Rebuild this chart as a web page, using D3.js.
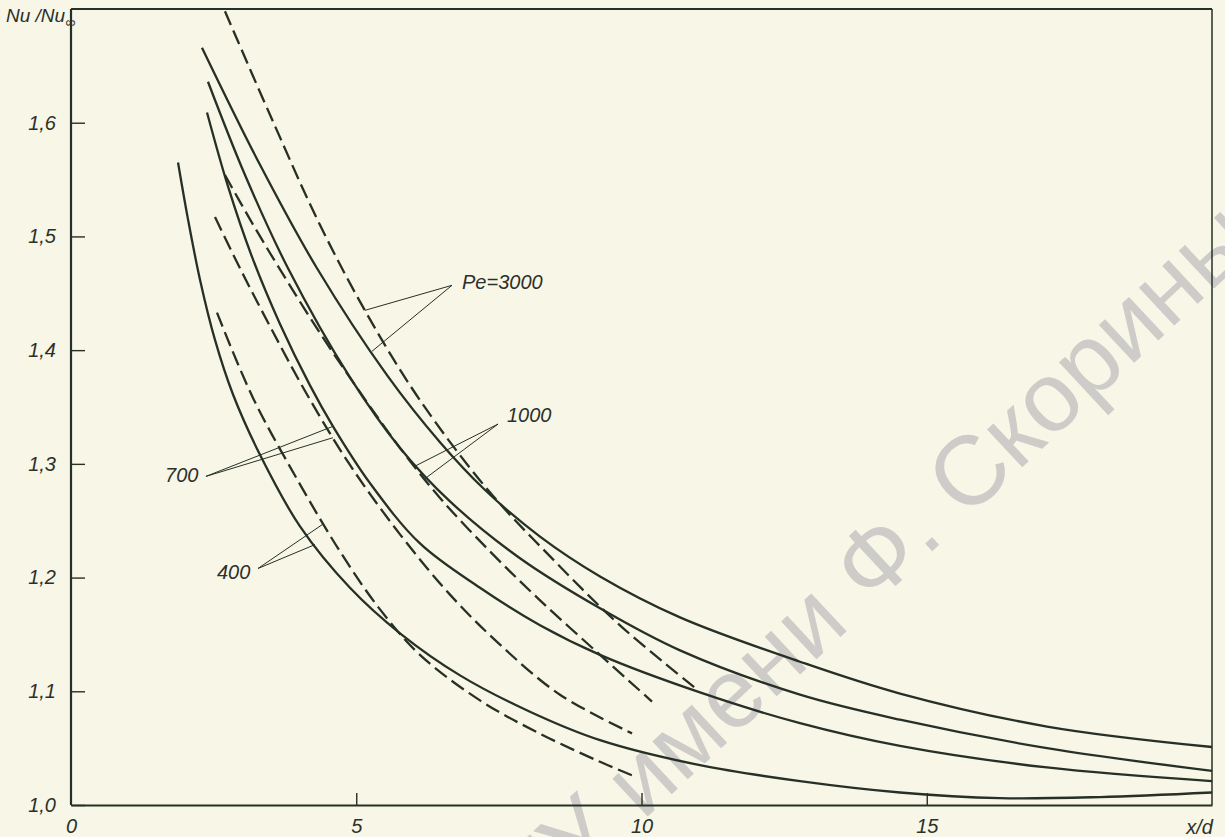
<!DOCTYPE html>
<html>
<head>
<meta charset="utf-8">
<script src="https://cdn.jsdelivr.net/npm/d3@7"></script>
<style>
  body { margin: 0; background: #f8f6e6; }
  svg { display: block; }
  .lbl { font-family: "Liberation Sans", Arial, sans-serif; font-style: italic; fill: #2b302b; }
</style>
</head>
<body>
<div id="vis"></div>
<script>
const FRAME_WIDTH = 1225;
const FRAME_HEIGHT = 837;

// axes
const xTicks = [0, 5, 10, 15];
const yTicks = [1.0, 1.1, 1.2, 1.3, 1.4, 1.5, 1.6];
const yTickLabels = ["1,0", "1,1", "1,2", "1,3", "1,4", "1,5", "1,6"];

// curves: [x/d, Nu/Nu_inf]
// solid lines
const solid3000 = [[2.296,1.666],[3.313,1.563],[4.312,1.472],[5.539,1.378],[6.468,1.319],[7.257,1.277],[8.221,1.236],[9.273,1.201],[10.675,1.165],[12.778,1.126],[14.531,1.098],[17.108,1.069],[20,1.051]];
const solid1000 = [[2.401,1.636],[3.050,1.554],[3.804,1.472],[4.890,1.376],[5.767,1.314],[6.643,1.267],[7.870,1.217],[9.273,1.173],[10.675,1.136],[12.778,1.097],[14.531,1.075],[17.108,1.050],[20,1.030]];
const solid700  = [[2.384,1.609],[2.752,1.544],[3.173,1.482],[3.663,1.423],[4.189,1.369],[4.592,1.333],[5.241,1.283],[6.117,1.230],[7.169,1.191],[8.221,1.158],[9.273,1.132],[11.025,1.099],[12.778,1.072],[14.531,1.052],[17.108,1.033],[20,1.021]];
const solid400  = [[1.876,1.565],[2.051,1.515],[2.261,1.462],[2.524,1.409],[2.840,1.361],[3.313,1.308],[4.014,1.245],[4.890,1.191],[5.767,1.151],[6.819,1.114],[8.045,1.082],[9.273,1.057],[11.025,1.035],[12.778,1.021],[14.531,1.011],[16.284,1.006],[18.037,1.007],[20,1.011]];
// dashed lines
const dashed3000 = [[2.699,1.698],[3.488,1.607],[4.365,1.510],[5.241,1.427],[6.117,1.356],[7.309,1.277],[8.449,1.216],[9.623,1.158],[10.938,1.103]];
const dashed1000 = [[2.699,1.554],[3.138,1.515],[3.663,1.471],[4.365,1.415],[5.066,1.363],[5.767,1.314],[6.468,1.270],[7.344,1.223],[8.221,1.180],[9.273,1.132],[10.184,1.091]];
const dashed700  = [[2.524,1.517],[2.962,1.472],[3.488,1.421],[4.137,1.361],[4.890,1.299],[5.767,1.238],[6.643,1.185],[7.520,1.141],[8.571,1.097],[9.834,1.063]];
const dashed400  = [[2.559,1.433],[3.190,1.358],[4.014,1.282],[4.715,1.223],[5.416,1.172],[6.117,1.132],[7.169,1.092],[8.168,1.064],[9.273,1.038],[9.886,1.025]];

// Pe labels: text, label anchor, leader start and end points (data units)
const peNames = ["Pe=3000", "1000", "700", "400"];
const peLabelPos = [[6.854,1.454],[7.642,1.337],[1.648,1.284],[2.559,1.199]];
const peLeaderStart = [[6.678,1.457],[7.485,1.335],[2.366,1.289],[3.278,1.208]];
const peLeaderEnds = [
  [[5.153,1.435],[5.276,1.399]],
  [[6.030,1.298],[6.205,1.287]],
  [[4.592,1.333],[4.592,1.323]],
  [[4.417,1.247],[4.277,1.229]]
];

const MARGINS = {left: 71, right: 13, top: 9, bottom: 32};

const FRAME = d3.select("#vis")
  .append("svg")
    .attr("width", FRAME_WIDTH)
    .attr("height", FRAME_HEIGHT);

FRAME.append("rect")
  .attr("width", FRAME_WIDTH).attr("height", FRAME_HEIGHT)
  .attr("fill", "#f8f6e6");

const X_SCALE = d3.scaleLinear()
  .domain([0, 20])
  .range([MARGINS.left, FRAME_WIDTH - MARGINS.right]);

const Y_SCALE = d3.scaleLinear()
  .domain([1.0, 1.7])
  .range([FRAME_HEIGHT - MARGINS.bottom, MARGINS.top]);

const INK = "#263026";

// watermark
FRAME.append("text")
  .attr("transform", "translate(880,600) rotate(-43)")
  .attr("text-anchor", "middle")
  .attr("font-family", "Liberation Sans, Arial, sans-serif")
  .attr("font-size", 98)
  .attr("fill", "#c2c2c2")
  .attr("fill-opacity", 0.8)
  .text("ГГУ имени Ф. Скорины");

// frame: top and right border
FRAME.append("line")
  .attr("x1", X_SCALE(0)).attr("x2", X_SCALE(20))
  .attr("y1", Y_SCALE(1.7)).attr("y2", Y_SCALE(1.7))
  .attr("stroke", INK).attr("stroke-width", 2);
FRAME.append("line")
  .attr("x1", X_SCALE(20)).attr("x2", X_SCALE(20))
  .attr("y1", Y_SCALE(1.7)).attr("y2", Y_SCALE(1.0))
  .attr("stroke", INK).attr("stroke-width", 1.5);

// y axis, ticks pointing inward
const yAxis = FRAME.append("g")
  .attr("transform", "translate(" + X_SCALE(0) + ",0)")
  .call(d3.axisLeft(Y_SCALE)
    .tickValues(yTicks)
    .tickFormat((d, i) => yTickLabels[i])
    .tickSizeInner(-14)
    .tickSizeOuter(0)
    .tickPadding(15));

// x axis, ticks pointing up
const xAxis = FRAME.append("g")
  .attr("transform", "translate(0," + Y_SCALE(1.0) + ")")
  .call(d3.axisBottom(X_SCALE)
    .tickValues(xTicks)
    .tickFormat(d3.format("d"))
    .tickSizeInner(-12)
    .tickSizeOuter(0)
    .tickPadding(14));

[yAxis, xAxis].forEach(ax => {
  ax.select(".domain").attr("stroke", INK).attr("stroke-width", 2.2);
  ax.selectAll(".tick line").attr("stroke", INK).attr("stroke-width", 1.4);
  ax.selectAll(".tick text")
    .attr("class", "lbl")
    .attr("font-size", 20)
    .attr("fill", INK);
});
yAxis.select(".domain").attr("d", "M0," + Y_SCALE(1.7) + "V" + Y_SCALE(1.0));
xAxis.selectAll(".tick").filter(d => d === 0).select("line").remove();

// axis titles
FRAME.append("text")
  .attr("class", "lbl")
  .attr("x", 6).attr("y", 22)
  .attr("font-size", 19)
  .text("Nu /Nu")
  .append("tspan")
    .attr("font-size", 14)
    .attr("dy", 5)
    .text("∞");

FRAME.append("text")
  .attr("class", "lbl")
  .attr("x", 1213).attr("y", 834)
  .attr("text-anchor", "end")
  .attr("font-size", 20)
  .text("x/d");

// curves
const line = d3.line()
  .x(d => X_SCALE(d[0]))
  .y(d => Y_SCALE(d[1]))
  .curve(d3.curveCatmullRom.alpha(0.5));

const solidSeries = [solid3000, solid1000, solid700, solid400];
const dashedSeries = [dashed3000, dashed1000, dashed700, dashed400];

FRAME.selectAll(".solid")
  .data(solidSeries)
  .enter()
  .append("path")
    .attr("class", "solid")
    .attr("d", line)
    .attr("fill", "none")
    .attr("stroke", INK)
    .attr("stroke-width", 2.3);

FRAME.selectAll(".dashed")
  .data(dashedSeries)
  .enter()
  .append("path")
    .attr("class", "dashed")
    .attr("d", line)
    .attr("fill", "none")
    .attr("stroke", INK)
    .attr("stroke-width", 2.3)
    .attr("stroke-dasharray", "15,6");

// Pe labels with leader lines
peNames.forEach((name, i) => {
  const s = peLeaderStart[i];
  peLeaderEnds[i].forEach(e => {
    FRAME.append("line")
      .attr("x1", X_SCALE(s[0])).attr("y1", Y_SCALE(s[1]))
      .attr("x2", X_SCALE(e[0])).attr("y2", Y_SCALE(e[1]))
      .attr("stroke", INK).attr("stroke-width", 1);
  });
  FRAME.append("text")
    .attr("class", "lbl")
    .attr("x", X_SCALE(peLabelPos[i][0]))
    .attr("y", Y_SCALE(peLabelPos[i][1]))
    .attr("font-size", 20)
    .text(name);
});
</script>
</body>
</html>
